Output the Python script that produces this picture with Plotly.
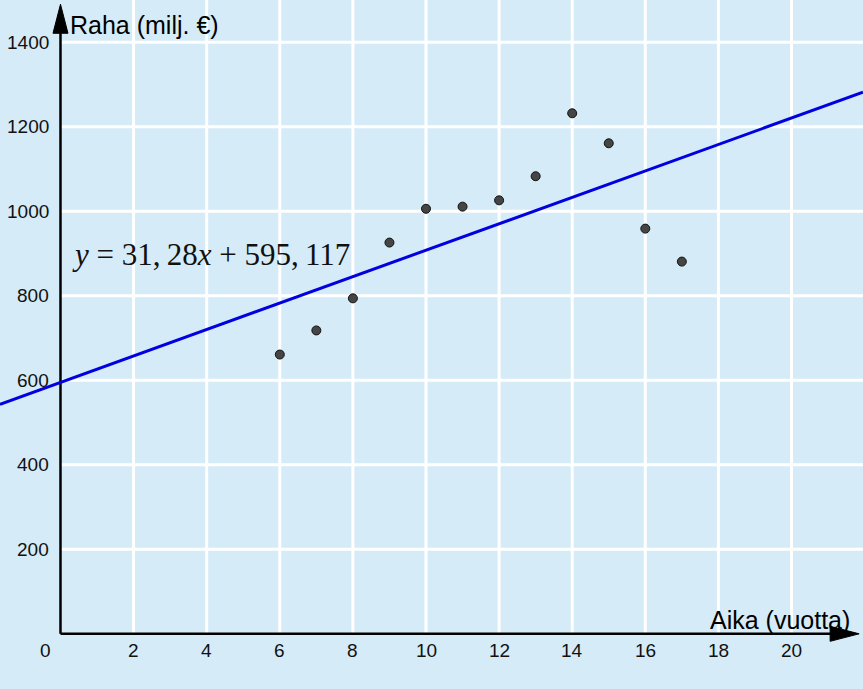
import plotly.graph_objects as go

# ---- data ----
years = [6, 7, 8, 9, 10, 11, 12, 13, 14, 15, 16, 17]
money = [661, 718, 794, 926, 1006, 1011, 1026, 1083, 1232, 1161, 959, 881]
slope = 31.28
intercept = 595.117
x_ticks = [2, 4, 6, 8, 10, 12, 14, 16, 18, 20]
y_ticks = [200, 400, 600, 800, 1000, 1200, 1400]
x_title = "Aika (vuotta)"
y_title = "Raha (milj. €)"
equation = "<i>y</i> = 31,\u200928<i>x</i> + 595,\u2009117"

X_RANGE = [-1.655, 21.956]
Y_RANGE = [-130.6, 1500.1]
BG = "#D5EBF8"

fig = go.Figure()

# regression line across the whole view
lx = [X_RANGE[0], X_RANGE[1]]
ly = [slope * v + intercept for v in lx]
fig.add_trace(go.Scatter(x=lx, y=ly, mode="lines",
                         line=dict(color="#0000E0", width=3),
                         hoverinfo="skip", showlegend=False))
fig.add_trace(go.Scatter(x=years, y=money, mode="markers",
                         marker=dict(size=9, color="#454545",
                                     line=dict(color="#111111", width=1)),
                         showlegend=False))

shapes = []
for v in x_ticks:
    shapes.append(dict(type="line", x0=v, x1=v, y0=0, y1=Y_RANGE[1],
                       line=dict(color="white", width=3), layer="below"))
for v in y_ticks:
    shapes.append(dict(type="line", x0=0, x1=X_RANGE[1], y0=v, y1=v,
                       line=dict(color="white", width=3), layer="below"))

x_tip = 21.85
y_tip = 1490
# axis lines
shapes.append(dict(type="line", x0=0, x1=x_tip - 0.5, y0=0, y1=0,
                   line=dict(color="black", width=2.5), layer="below"))
shapes.append(dict(type="line", x0=0, x1=0, y0=0, y1=y_tip - 40,
                   line=dict(color="black", width=2.5), layer="below"))
# arrowheads (pixel-sized paths anchored at the tips)
shapes.append(dict(type="path", xsizemode="pixel", ysizemode="pixel",
                   xanchor=x_tip, yanchor=0,
                   path="M0,0 L-29,7.5 L-29,-7.5 Z",
                   fillcolor="black", line=dict(color="black", width=1),
                   layer="above"))
shapes.append(dict(type="path", xsizemode="pixel", ysizemode="pixel",
                   xanchor=0, yanchor=y_tip,
                   path="M0,0 L-7.5,-29 L7.5,-29 Z",
                   fillcolor="black", line=dict(color="black", width=1),
                   layer="above"))

annotations = []
tick_font = dict(family="Liberation Sans, Arial, sans-serif", size=19, color="#111111")
for v in x_ticks:
    annotations.append(dict(x=v, y=0, text=str(v), showarrow=False,
                            xanchor="center", yanchor="middle", yshift=-17,
                            font=tick_font))
annotations.append(dict(x=0, y=0, text="0", showarrow=False,
                        xanchor="center", yanchor="middle", xshift=-15, yshift=-17,
                        font=tick_font))
for v in y_ticks:
    annotations.append(dict(x=0, y=v, text=str(v), showarrow=False,
                            xanchor="right", yanchor="middle", xshift=-9,
                            font=tick_font))
title_font = dict(family="Liberation Sans, Arial, sans-serif", size=25, color="black")
annotations.append(dict(x=0.2, y=1441, text=y_title, showarrow=False,
                        xanchor="left", yanchor="middle", font=title_font))
annotations.append(dict(x=17.72, y=33, text=x_title, showarrow=False,
                        xanchor="left", yanchor="middle", font=title_font))
annotations.append(dict(x=0.26, y=897, text=equation, showarrow=False,
                        xanchor="left", yanchor="middle",
                        font=dict(family="Liberation Serif, Times New Roman, serif",
                                  size=31, color="#111111")))

fig.update_layout(
    width=863, height=689,
    margin=dict(l=0, r=0, t=0, b=0),
    paper_bgcolor=BG, plot_bgcolor=BG,
    xaxis=dict(range=X_RANGE, visible=False, showgrid=False, zeroline=False),
    yaxis=dict(range=Y_RANGE, visible=False, showgrid=False, zeroline=False),
    shapes=shapes, annotations=annotations, showlegend=False,
)

fig.write_html("out.html",
               config={"displayModeBar": False},
               post_script="document.body.style.margin='0';document.body.style.overflow='hidden';")
